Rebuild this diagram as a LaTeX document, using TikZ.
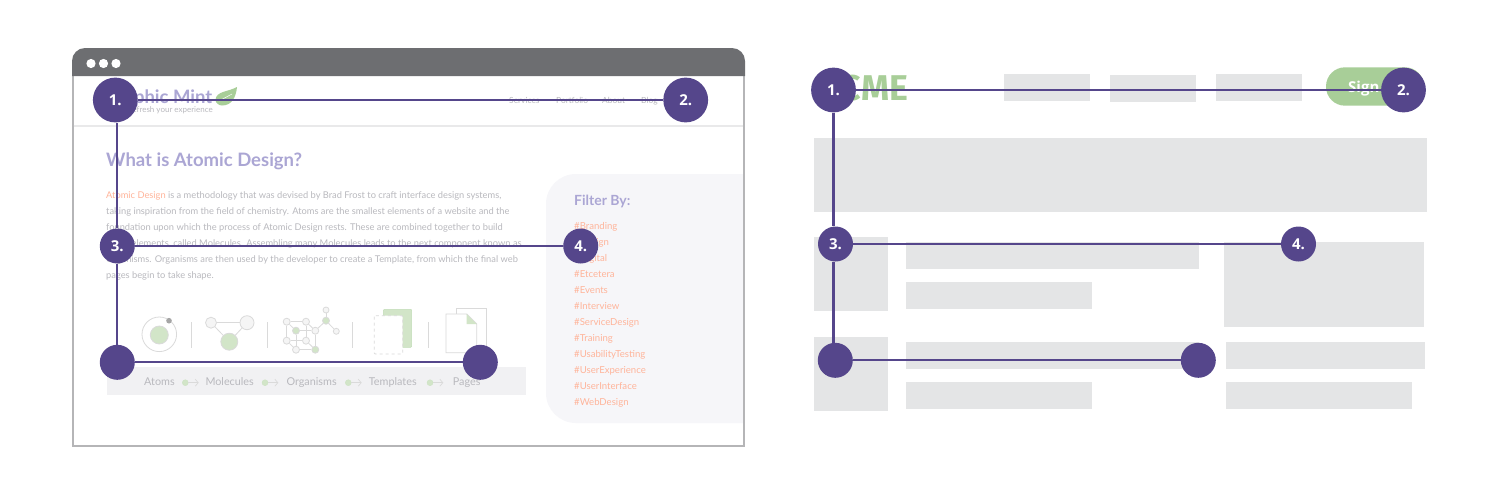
\documentclass[tikz,border=0pt]{standalone}
\usepackage{fontspec}
\usetikzlibrary{arrows.meta}
\setmainfont{Lato}
\newfontfamily\numfont{Open Sans}
\newfontfamily\acmefont{Fira Sans}
\definecolor{barcol}{HTML}{6D6E71}
\definecolor{framecol}{HTML}{B5B5B7}
\definecolor{rulecol}{HTML}{E9E9EA}
\definecolor{purplecol}{HTML}{55468B}
\definecolor{titlecol}{HTML}{ABA6D4}
\definecolor{paracol}{HTML}{B9B9BE}
\definecolor{tagcol}{HTML}{FFB49A}
\definecolor{panelcol}{HTML}{F6F6F9}
\definecolor{stripcol}{HTML}{F1F1F3}
\definecolor{iconcol}{HTML}{DADADA}
\definecolor{leafcol}{HTML}{D2E5C8}
\definecolor{greencol}{HTML}{A8CE98}
\definecolor{blockcol}{HTML}{E4E5E6}
\tikzset{
  stepdot/.style={circle, fill=purplecol, minimum size=44.8pt, inner sep=0pt, text=white, font=\numfont\bfseries\fontsize{15}{15}\selectfont},
  smalldot/.style={stepdot, minimum size=35pt},
  guide/.style={draw=purplecol, line width=2.1pt},
  paraline/.style={anchor=base west, inner sep=0pt, text=paracol, font=\fontsize{9.3}{11}\selectfont},
  navlabel/.style={anchor=base west, inner sep=0pt, text=paracol, font=\fontsize{8.4}{10}\selectfont},
  taglabel/.style={anchor=base west, inner sep=0pt, text=tagcol, font=\fontsize{9.6}{11}\selectfont},
  striplabel/.style={anchor=base west, inner sep=0pt, text=paracol, font=\fontsize{10.8}{12}\selectfont},
  flowdot/.style={circle, fill=leafcol, draw=greencol!60, line width=0.3pt, minimum size=6pt, inner sep=0pt},
  flowarrow/.style={draw=iconcol, line width=0.7pt, -{Straight Barb[length=3pt,width=7pt]}},
  cubedot/.style={circle, draw=iconcol, fill=black!4, line width=0.8pt, minimum size=7pt, inner sep=0pt},
  cubegreen/.style={cubedot, fill=leafcol},
  iconline/.style={draw=iconcol, line width=0.8pt},
  block/.style={fill=blockcol}
}
\begin{document}
\begin{tikzpicture}[x=1pt,y=-1pt]
\useasboundingbox (0,0) rectangle (1490,490);
% browser window
\fill [white] (72,48) rectangle (745,447);
\fill [panelcol] (744,174) -- (576,174) arc [start angle=90, end angle=180, radius=30pt] -- (546,393) arc [start angle=180, end angle=270, radius=30pt] -- (744,423) -- cycle;
\draw [framecol, line width=1.6pt] (72.8,70) -- (72.8,446.2) -- (744.2,446.2) -- (744.2,70);
\fill [barcol] (72,76) -- (72,61) arc [start angle=180, end angle=90, radius=13pt] -- (732,48) arc [start angle=90, end angle=0, radius=13pt] -- (745,76) -- cycle;
\fill [white] (91,63.5) circle [radius=4.6pt];
\fill [white] (103.5,63.5) circle [radius=4.6pt];
\fill [white] (116,63.5) circle [radius=4.6pt];
\draw [rulecol, line width=1.6pt] (73.6,126) -- (743.4,126);
% logo and menu
\node [anchor=base east, inner sep=0pt, text=titlecol, font=\bfseries\fontsize{18.5}{20}\selectfont] (logo) at (212.5,103.3) {Graphic Mint};
\node [anchor=base east, inner sep=0pt, text=paracol, font=\fontsize{8}{9}\selectfont] (slogan) at (213,112.7) {refresh your experience};
\fill [greencol] (215.5,100) .. controls (216,91) and (228,92) .. (237,87) .. controls (236,97) and (232,105.5) .. (222,105.5) .. controls (219,105.5) and (215.5,103) .. (215.5,100);
\draw [white, line width=0.5pt] (219,101) -- (232,94);
\node [navlabel] (services) at (509,103.3) {Services};
\node [navlabel] (portfolio) at (556,103.3) {Portfolio};
\node [navlabel] (about) at (602,103.3) {About};
\node [navlabel] (blog) at (641,103.3) {Blog};
% article
\node [anchor=base west, inner sep=0pt, text=titlecol, font=\bfseries\fontsize{18.5}{22}\selectfont] (title) at (106,166.7) {What is Atomic Design?};
\node [paraline] (line1) at (106,198.7) {{\color{tagcol}Atomic Design} is a methodology that was devised by Brad Frost to craft interface design systems,};
\node [paraline] (line2) at (106,214.7) {taking inspiration from the field of chemistry. Atoms are the smallest elements of a website and the};
\node [paraline] (line3) at (106,230.7) {foundation upon which the process of Atomic Design rests. These are combined together to build};
\node [paraline] (line4) at (106,246.7) {larger elements, called Molecules. Assembling many Molecules leads to the next component known as};
\node [paraline] (line5) at (106,262.7) {Organisms. Organisms are then used by the developer to create a Template, from which the final web};
\node [paraline] (line6) at (106,278.7) {pages begin to take shape.};
% filter list
\node [anchor=base west, inner sep=0pt, text=titlecol, font=\bfseries\fontsize{14}{16}\selectfont] (filter) at (574,205) {Filter By:};
\foreach \tag [count=\i] in {Branding,Design,Digital,Etcetera,Events,Interview,ServiceDesign,Training,UsabilityTesting,UserExperience,UserInterface,WebDesign}
  \node [taglabel] (tag\i) at (574,213+16*\i) {\#\tag};
% icons
\draw [iconline] (159.3,334.3) circle [radius=17.3pt];
\draw [iconline, fill=leafcol] (159.3,335) circle [radius=9pt];
\fill [gray!70] (169,320.7) circle [radius=2.8pt];
\foreach \sx in {191,267.3,352,428.3}
  \draw [iconline] (\sx,322) -- (\sx,348);
\node [cubedot, minimum size=11pt] (mola) at (211,322.7) {};
\node [cubedot, minimum size=14pt] (molb) at (247,322.7) {};
\node [cubegreen, minimum size=17pt] (molc) at (229.3,341.7) {};
\draw [iconline] (mola) -- (molb);
\draw [iconline] (mola) -- (molc);
\draw [iconline] (molb) -- (molc);
\node [cubedot] (cubea) at (286.7,321.7) {};
\node [cubedot] (cubeb) at (306,321.7) {};
\node [cubegreen] (cubec) at (296,330.7) {};
\node [cubedot] (cubed) at (315.3,330.7) {};
\node [cubedot] (cubee) at (286.7,340.7) {};
\node [cubedot] (cubef) at (306,340.7) {};
\node [cubedot] (cubeg) at (296,349.7) {};
\node [cubegreen] (cubeh) at (315.3,349.7) {};
\node [cubegreen] (cubei) at (326,320.7) {};
\node [cubedot, minimum size=6pt] (cubej) at (326,310) {};
\node [cubedot, minimum size=6pt] (cubek) at (336.3,331.3) {};
\foreach \from/\to in {cubea/cubeb,cubea/cubee,cubeb/cubef,cubee/cubef,cubec/cubed,cubec/cubeg,cubed/cubeh,cubeg/cubeh,cubea/cubec,cubeb/cubed,cubee/cubeg,cubef/cubeh,cubed/cubei,cubei/cubej,cubei/cubek}
  \draw [iconline] (\from) -- (\to);
\draw [fill=leafcol, draw=greencol!70, line width=0.5pt, rounded corners=1pt] (383.3,309.3) rectangle (411.7,347.3);
\draw [fill=white, draw=iconcol, dashed, line width=0.8pt, rounded corners=1pt] (374.3,315.7) rectangle (402.7,354);
\draw [iconline, fill=white] (456.7,308.3) rectangle (486.7,346.7);
\draw [iconline, fill=white] (446,314) -- (466.7,314) -- (476.7,324) -- (476.7,352.7) -- (446,352.7) -- cycle;
\fill [leafcol] (466.7,314) -- (476.7,324) -- (466.7,324) -- cycle;
% flow strip
\fill [stripcol] (106.7,367.3) rectangle (526.3,395);
\node [striplabel] (atoms) at (144,385.3) {Atoms};
\node [striplabel] (molecules) at (205.3,385.3) {Molecules};
\node [striplabel] (organisms) at (286.3,385.3) {Organisms};
\node [striplabel] (templates) at (368.7,385.3) {Templates};
\node [striplabel] (pages) at (452.7,385.3) {Pages};
\foreach \ax/\bx [count=\i] in {185.3/198.7,265/278.3,348.3/361.7,430/443.3} {
  \node [flowdot] (flow\i) at (\ax,382.7) {};
  \coordinate (flowend\i) at (\bx,382.7);
  \draw [flowarrow] (flow\i) -- (flowend\i);
}
% wireframe
\node [anchor=base east, inner sep=0pt, text=greencol, font=\acmefont\bfseries\fontsize{35.8}{36}\selectfont] (acme) at (908.5,100.7) {ACME};
\fill [block] (1004,74) rectangle (1090,101);
\fill [block] (1110,75) rectangle (1196,101.7);
\fill [block] (1216,74) rectangle (1302,101);
\fill [greencol, rounded corners=19pt] (1326,67.3) rectangle (1424,105.7);
\node [anchor=base west, inner sep=0pt, text=white, font=\numfont\bfseries\fontsize{15}{16}\selectfont] (signin) at (1348,92.5) {Sign};
\fill [block] (814,138) rectangle (1427,212);
\fill [block] (814,237) rectangle (888,311);
\fill [block] (906,242.3) rectangle (1199,269);
\fill [block] (906,282) rectangle (1092,309);
\fill [block] (1224,242) rectangle (1424,327);
\fill [block] (814,337) rectangle (888,411);
\fill [block] (906,342) rectangle (1199,369);
\fill [block] (906,382) rectangle (1092,409);
\fill [block] (1226,342) rectangle (1425,369);
\fill [block] (1226,382) rectangle (1412,409);
% reading path on the page
\node [stepdot] (one) at (115.3,100) {1.};
\node [stepdot] (two) at (685.7,100) {2.};
\node [smalldot] (three) at (117.3,246) {3.};
\node [smalldot] (four) at (580.7,246) {4.};
\node [smalldot] (five) at (117.3,362.3) {};
\node [smalldot] (six) at (480.3,362.3) {};
\draw [guide] (one) -- (two);
\draw [guide] (three) -- (four);
\draw [guide] (five) -- (six);
\draw [guide] (one.south -| three) -- (three.north);
\draw [guide] (three.south) -- (five.north);
% reading path on the wireframe
\node [stepdot] (wone) at (833.5,90) {1.};
\node [stepdot] (wtwo) at (1403.5,90) {2.};
\node [smalldot] (wthree) at (835.5,244) {3.};
\node [smalldot] (wfour) at (1298.5,244) {4.};
\node [smalldot] (wfive) at (835.3,360.3) {};
\node [smalldot] (wsix) at (1198.3,360.3) {};
\draw [guide] (wone) -- (wtwo);
\draw [guide] (wthree) -- (wfour);
\draw [guide] (wfive) -- (wsix);
\draw [guide] (wone.south) -- (wone.south |- wthree.north);
\draw [guide] (wthree.south -| wone) -- (wone |- wfive.north);
\end{tikzpicture}
\end{document}
